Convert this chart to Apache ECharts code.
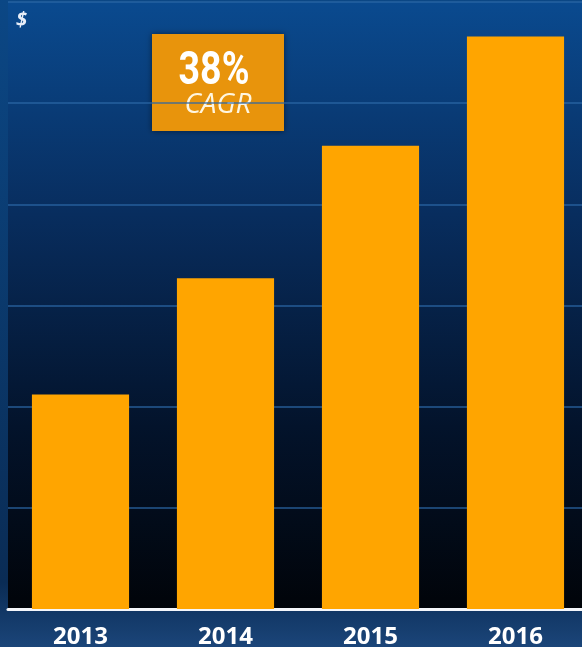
<!DOCTYPE html>
<html><head><meta charset="utf-8">
<script src="https://cdn.jsdelivr.net/npm/echarts@6/dist/echarts.min.js"></script>
<style>html,body{margin:0;padding:0;background:#123a68;}#c{width:582px;height:647px;}</style>
</head><body><div id="c"></div>
<script>
const categories = ['2013', '2014', '2015', '2016'];
const revenue = [2.12, 3.27, 4.58, 5.66];
const yTicks = [0, 1, 2, 3, 4, 5, 6];

const chart = echarts.init(document.getElementById('c'));
chart.setOption({
  backgroundColor: {
    type: 'linear', x: 0, y: 0, x2: 0, y2: 1,
    colorStops: [{offset: 0, color: '#0b4785'}, {offset: 0.9, color: '#0a2c55'}, {offset: 1, color: '#1b4579'}]
  },
  animation: false,
  grid: {
    left: 8, right: -6, top: 2, bottom: 38, show: true, borderWidth: 0,
    outerBoundsMode: 'none', containLabel: false,
    backgroundColor: {
      type: 'linear', x: 0, y: 0, x2: 0, y2: 1,
      colorStops: [{offset: 0, color: '#0a4a8f'}, {offset: 0.35, color: '#082d5e'}, {offset: 0.7, color: '#03132b'}, {offset: 1, color: '#010409'}]
    }
  },
  xAxis: {
    type: 'category', data: categories,
    axisLine: {show: true, lineStyle: {color: '#f4f6fa', width: 3}},
    axisTick: {show: false},
    axisLabel: {color: '#ffffff', fontSize: 24, fontWeight: 'bold', fontFamily: 'Open Sans', margin: 16}
  },
  yAxis: {
    type: 'value', min: yTicks[0], max: yTicks[yTicks.length - 1], interval: 1,
    axisLabel: {show: false}, axisLine: {show: false}, axisTick: {show: false},
    splitLine: {show: true, lineStyle: {color: '#2a66a6', width: 1.5, opacity: 0.85}}
  },
  series: [{
    type: 'bar', data: revenue, barWidth: '67%',
    itemStyle: {color: '#ffa500'}
  }],
  graphic: [
    {type: 'text', left: 16, top: 10, style: {text: '$', fill: '#e8eef8', fontSize: 20, fontWeight: 'bold', fontStyle: 'italic', fontFamily: 'Open Sans'}},
    {type: 'group', left: 152, top: 34, children: [
      {type: 'rect', shape: {x: 0, y: 0, width: 132, height: 97}, style: {fill: '#e8940c', shadowBlur: 6, shadowColor: 'rgba(0,0,0,0.5)'}},
      {type: 'text', x: 62, y: 38, scaleX: 0.8, style: {text: '38%', fill: '#ffffff', fontSize: 47, fontWeight: 'bold', fontFamily: 'Roboto', align: 'center', verticalAlign: 'middle'}},
      {type: 'text', x: 66, y: 71, style: {text: 'CAGR', fill: '#fff6e0', fontSize: 28, fontStyle: 'italic', fontFamily: 'Open Sans', align: 'center', verticalAlign: 'middle'}}
    ]}
  ]
});
</script></body></html>
